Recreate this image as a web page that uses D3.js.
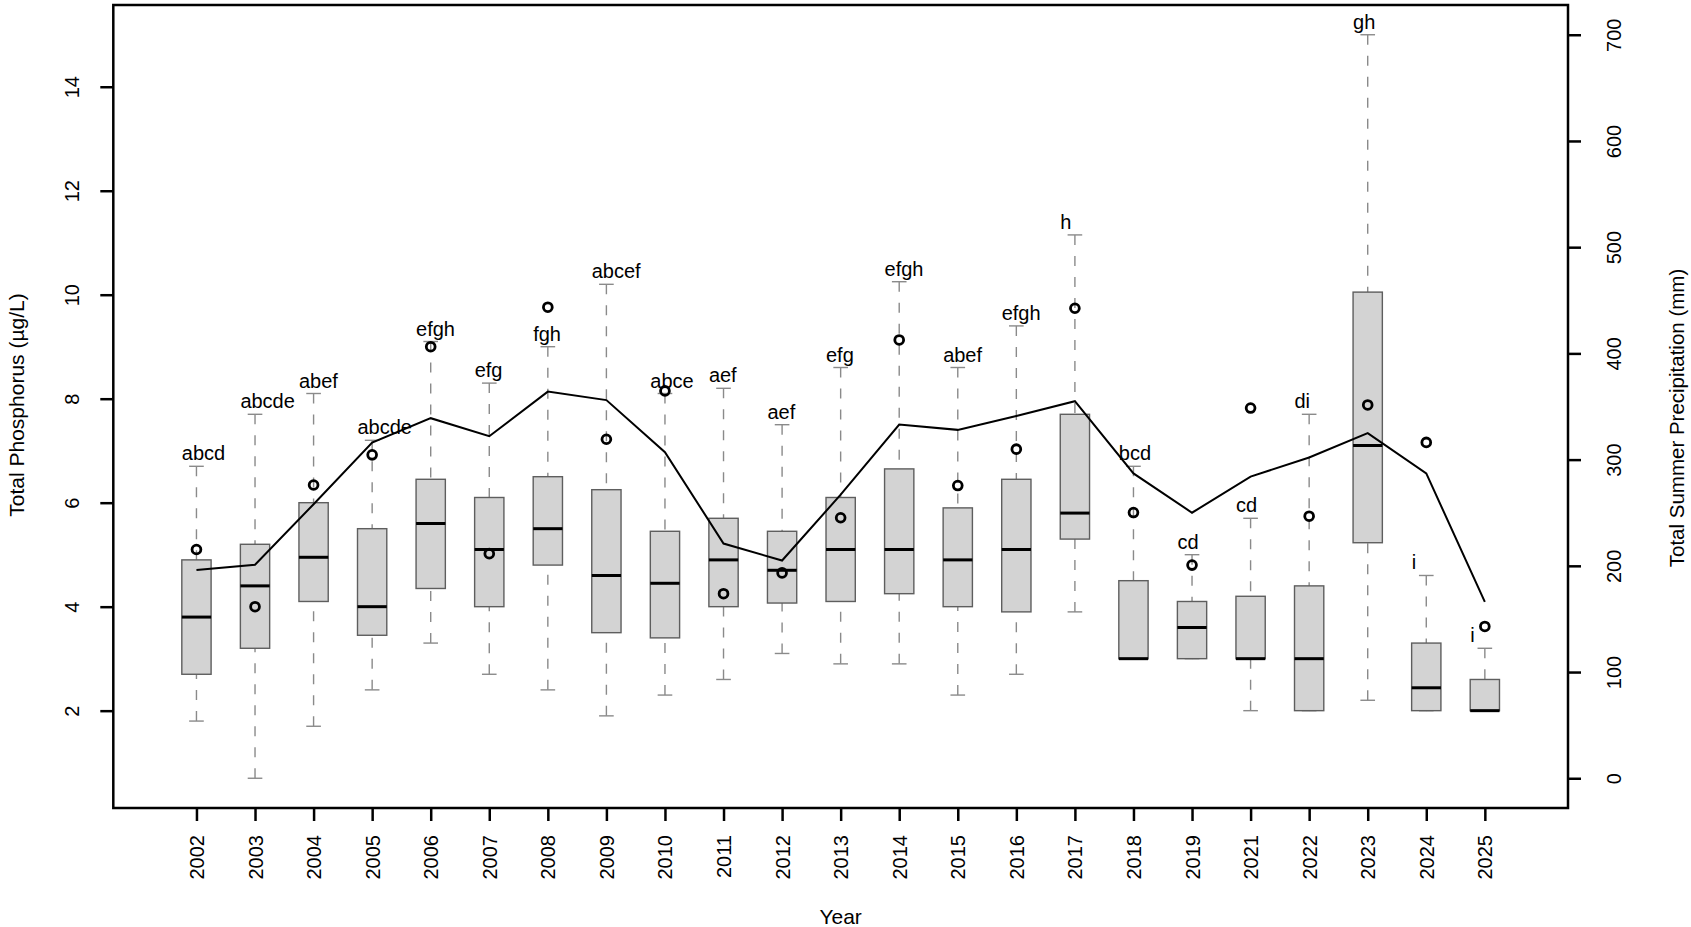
<!DOCTYPE html>
<head>
    <meta charset="utf-8">
    <script src="https://d3js.org/d3.v7.min.js"></script>
    <style>
        html, body { padding: 0; margin: 0; background: #fff; }
        svg { display: block; }
        text { font-family: "Liberation Sans", Arial, sans-serif; fill: #000; }
        .tick line { stroke: #000; stroke-width: 2.5; }
        .tick text { font-size: 20px; }
        .whisker { stroke: #8a8a8a; stroke-width: 1.4; stroke-dasharray: 10,11; }
        .staple { stroke: #8a8a8a; stroke-width: 1.4; }
        .box { fill: #d3d3d3; stroke: #5e5e5e; stroke-width: 1.4; }
        .median { stroke: #000; stroke-width: 3; }
        .mean { fill: none; stroke: #000; stroke-width: 2.8; }
        .precip { fill: none; stroke: #000; stroke-width: 2; }
        .letters { font-size: 20px; }
        .title { font-size: 21px; }
    </style>
</head>

<body>
<svg width="1691" height="927"></svg>
<script>
    // phosphorus boxplots by year (µg/L)
    var years = ["2002", "2003", "2004", "2005", "2006", "2007", "2008", "2009", "2010", "2011", "2012",
                 "2013", "2014", "2015", "2016", "2017", "2018", "2019", "2021", "2022", "2023", "2024", "2025"];
    var lowerWhisker = [1.8, 0.7, 1.7, 2.4, 3.3, 2.7, 2.4, 1.9, 2.3, 2.6, 3.1,
                        2.9, 2.9, 2.3, 2.7, 3.9, 3.0, 3.0, 2.0, 2.0, 2.2, 2.0, 2.0];
    var q1 = [2.7, 3.2, 4.1, 3.45, 4.35, 4.0, 4.8, 3.5, 3.4, 4.0, 4.07,
              4.1, 4.25, 4.0, 3.9, 5.3, 3.0, 3.0, 3.0, 2.0, 5.23, 2.0, 2.0];
    var medians = [3.8, 4.4, 4.95, 4.0, 5.6, 5.1, 5.5, 4.6, 4.45, 4.9, 4.7,
                   5.1, 5.1, 4.9, 5.1, 5.8, 3.0, 3.6, 3.0, 3.0, 7.1, 2.44, 2.0];
    var q3 = [4.9, 5.2, 6.0, 5.5, 6.45, 6.1, 6.5, 6.25, 5.45, 5.7, 5.45,
              6.1, 6.65, 5.9, 6.45, 7.7, 4.5, 4.1, 4.2, 4.4, 10.05, 3.3, 2.6];
    var upperWhisker = [6.7, 7.7, 8.1, 7.2, 9.1, 8.3, 9.0, 10.2, 8.1, 8.2, 7.5,
                        8.6, 10.25, 8.6, 9.4, 11.15, 6.7, 5.0, 5.7, 7.7, 15.0, 4.6, 3.2];
    var means = [5.1, 4.0, 6.34, 6.92, 9.0, 5.02, 9.76, 7.22, 8.15, 4.25, 4.65,
                 5.71, 9.13, 6.33, 7.03, 9.74, 5.81, 4.8, 7.82, 5.74, 7.88, 7.16, 3.62];
    var groupLetters = ["abcd", "abcde", "abef", "abcde", "efgh", "efg", "fgh", "abcef", "abce", "aef", "aef",
                        "efg", "efgh", "abef", "efgh", "h", "bcd", "cd", "cd", "di", "gh", "i", "i"];
    // total summer precipitation (mm)
    var precip = [196, 201, 258, 316, 339, 322, 364, 356, 307, 221, 205,
                  267, 333, 328, 341, 355, 287, 250, 284, 302, 325, 287, 166];

    var phosTicks = [2, 4, 6, 8, 10, 12, 14];
    var precipTicks = [0, 100, 200, 300, 400, 500, 600, 700];

    var plot = {left: 113.3, right: 1568, top: 5, bottom: 808};
    var n = years.length;

    var rows = years.map(function(y, i) {
        return {year: y, i: i, lo: lowerWhisker[i], q1: q1[i], med: medians[i], q3: q3[i],
                hi: upperWhisker[i], mean: means[i], letters: groupLetters[i], precip: precip[i]};
    });

    // R style extents: 4% padding on each side
    var xScale = d3.scaleLinear()
        .domain([-0.5 - 0.04 * n, n - 0.5 + 0.04 * n])
        .range([plot.left, plot.right]);
    var yPhos = d3.scaleLinear()
        .domain([0.7 - 0.04 * 14.3, 15 + 0.04 * 14.3])
        .range([plot.bottom, plot.top]);
    var yPrecip = d3.scaleLinear()
        .domain([0 - 0.04 * 700, 700 + 0.04 * 700])
        .range([plot.bottom, plot.top]);

    var half = (xScale(1) - xScale(0)) * 0.25;
    var staple = half / 2;

    var svg = d3.select("svg");

    var box = svg.selectAll(".yr")
        .data(rows)
        .enter()
        .append("g")
        .attr("class", "yr");

    // whiskers from the ends toward the box
    box.append("line")
        .attr("class", "whisker")
        .attr("x1", function(d) { return xScale(d.i); })
        .attr("x2", function(d) { return xScale(d.i); })
        .attr("y1", function(d) { return yPhos(d.hi); })
        .attr("y2", function(d) { return yPhos(d.q3); });
    box.append("line")
        .attr("class", "whisker")
        .attr("x1", function(d) { return xScale(d.i); })
        .attr("x2", function(d) { return xScale(d.i); })
        .attr("y1", function(d) { return yPhos(d.lo); })
        .attr("y2", function(d) { return yPhos(d.q1); });

    ["hi", "lo"].forEach(function(k) {
        box.append("line")
            .attr("class", "staple")
            .attr("x1", function(d) { return xScale(d.i) - staple; })
            .attr("x2", function(d) { return xScale(d.i) + staple; })
            .attr("y1", function(d) { return yPhos(d[k]); })
            .attr("y2", function(d) { return yPhos(d[k]); });
    });

    box.append("rect")
        .attr("class", "box")
        .attr("x", function(d) { return xScale(d.i) - half; })
        .attr("width", half * 2)
        .attr("y", function(d) { return yPhos(d.q3); })
        .attr("height", function(d) { return yPhos(d.q1) - yPhos(d.q3); });

    box.append("line")
        .attr("class", "median")
        .attr("x1", function(d) { return xScale(d.i) - half; })
        .attr("x2", function(d) { return xScale(d.i) + half; })
        .attr("y1", function(d) { return yPhos(d.med); })
        .attr("y2", function(d) { return yPhos(d.med); });

    box.append("text")
        .attr("class", "letters")
        .attr("x", function(d) { return xScale(d.i) - half; })
        .attr("y", function(d) { return yPhos(d.hi) - 6; })
        .attr("text-anchor", "start")
        .text(function(d) { return d.letters; });

    box.append("circle")
        .attr("class", "mean")
        .attr("cx", function(d) { return xScale(d.i); })
        .attr("cy", function(d) { return yPhos(d.mean); })
        .attr("r", 4.4);

    var line = d3.line()
        .x(function(d) { return xScale(d.i); })
        .y(function(d) { return yPrecip(d.precip); });

    svg.append("path")
        .attr("class", "precip")
        .attr("d", line(rows));

    // frame
    svg.append("rect")
        .attr("x", plot.left)
        .attr("y", plot.top)
        .attr("width", plot.right - plot.left)
        .attr("height", plot.bottom - plot.top)
        .style("fill", "none")
        .style("stroke", "#000")
        .style("stroke-width", 2.5);

    // axes
    var xAxis = svg.append("g")
        .attr("transform", "translate(0," + plot.bottom + ")")
        .call(d3.axisBottom(xScale).tickValues(d3.range(n)).tickSize(13)
            .tickFormat(function(i) { return years[i]; }));
    xAxis.select(".domain").remove();
    xAxis.selectAll(".tick text")
        .attr("transform", "rotate(-90)")
        .attr("x", -27)
        .attr("y", 0)
        .attr("dy", "0.35em")
        .attr("text-anchor", "end");

    var leftAxis = svg.append("g")
        .attr("transform", "translate(" + plot.left + ",0)")
        .call(d3.axisLeft(yPhos).tickValues(phosTicks).tickSize(13));
    leftAxis.select(".domain").remove();
    leftAxis.selectAll(".tick text")
        .attr("transform", "rotate(-90)")
        .attr("x", 0)
        .attr("y", -41)
        .attr("dy", "0.35em")
        .attr("text-anchor", "middle");

    var rightAxis = svg.append("g")
        .attr("transform", "translate(" + plot.right + ",0)")
        .call(d3.axisRight(yPrecip).tickValues(precipTicks).tickSize(13));
    rightAxis.select(".domain").remove();
    rightAxis.selectAll(".tick text")
        .attr("transform", "rotate(-90)")
        .attr("x", 0)
        .attr("y", 46)
        .attr("dy", "0.35em")
        .attr("text-anchor", "middle");

    svg.append("text")
        .attr("class", "title")
        .attr("transform", "translate(17," + 405 + ") rotate(-90)")
        .attr("dy", "0.35em")
        .attr("text-anchor", "middle")
        .text("Total Phosphorus (µg/L)");

    svg.append("text")
        .attr("class", "title")
        .attr("transform", "translate(1677," + 418 + ") rotate(-90)")
        .attr("dy", "0.35em")
        .attr("text-anchor", "middle")
        .style("font-size", "20.5px")
        .text("Total Summer Precipitation (mm)");

    svg.append("text")
        .attr("class", "title")
        .attr("x", (plot.left + plot.right) / 2)
        .attr("y", 924)
        .attr("text-anchor", "middle")
        .text("Year");
</script>
</body>
